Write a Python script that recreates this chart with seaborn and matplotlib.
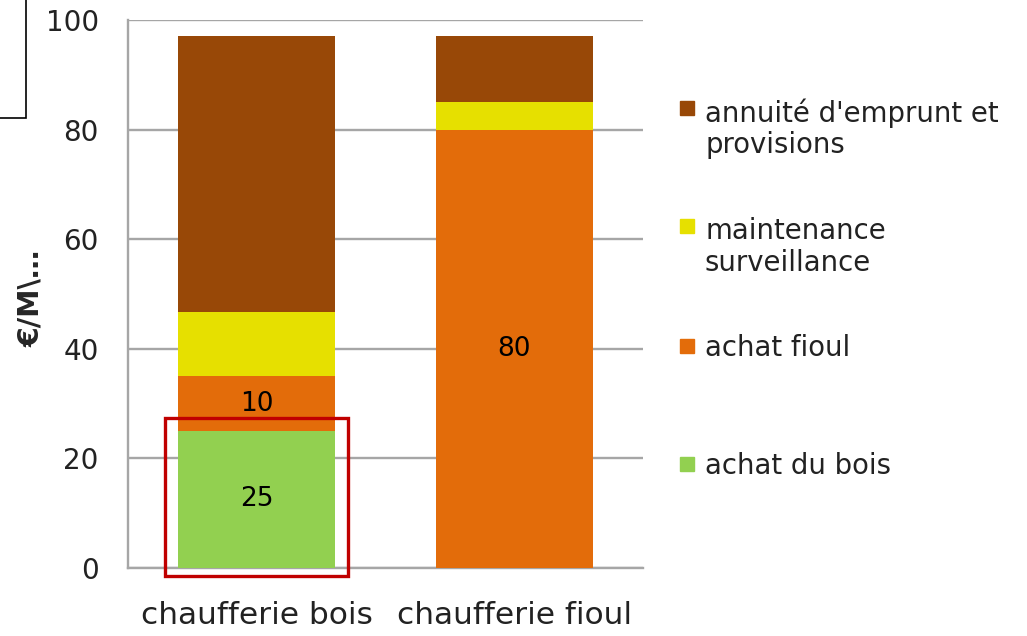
import numpy as np
import matplotlib
matplotlib.use("Agg")
import matplotlib.pyplot as plt
import seaborn as sns
from matplotlib.patches import Rectangle

# data (€/MWh)
categories = ["chaufferie bois", "chaufferie fioul"]
achat_bois = [25, 0]
achat_fioul = [10, 80]
maintenance = [11.8, 5]
annuite = [50.2, 12]

series_names = ["achat du bois", "achat fioul", "maintenance\nsurveillance",
                "annuité d'emprunt et\nprovisions"]
series_colors = ["#92D050", "#E36C0A", "#E6E000", "#984807"]
shown_labels = [["25", ""], ["10", "80"], ["", ""], ["", ""]]
y_ticks = [0, 20, 40, 60, 80, 100]

sns.set_style("white")
plt.rcParams["font.family"] = ["DejaVu Sans"]

W, H = 1027, 636
fig = plt.figure(figsize=(W / 100, H / 100), dpi=100)
ax = fig.add_axes([128 / W, 1 - 568 / H, 515 / W, 548 / H])

grey = "#A6A6A6"
bar_w = 0.61

# stacked bars
bottom = np.zeros(len(categories))
for vals, col in zip([achat_bois, achat_fioul, maintenance, annuite], series_colors):
    sns.barplot(x=categories, y=vals, bottom=bottom, color=col, width=bar_w,
                saturation=1, errorbar=None, ax=ax, zorder=3,
                linewidth=0, edgecolor="none")
    bottom = bottom + np.array(vals)

for cont, labs in zip(ax.containers, shown_labels):
    ax.bar_label(cont, labels=labs, label_type="center", fontsize=19, color="black")

# axes styling
ax.set_xlim(-0.5, 1.5)
ax.set_ylim(0, 100)
ax.set_yticks(y_ticks)
ax.yaxis.grid(True, color=grey, lw=1.7)
ax.set_axisbelow(True)
for s in ["top", "right"]:
    ax.spines[s].set_visible(False)
for s in ["left", "bottom"]:
    ax.spines[s].set_color(grey)
    ax.spines[s].set_linewidth(1.7)

ax.tick_params(axis="y", length=7, width=1.5, color=grey, labelsize=20, pad=14,
               labelcolor="#222222")
ax.tick_params(axis="x", which="major", length=0, labelsize=22.5, pad=24,
               labelcolor="#222222")
ax.set_xticks([-0.5, 0.5, 1.5], minor=True)
ax.tick_params(axis="x", which="minor", length=7, width=1.5, color=grey)
ax.set_xlabel("")

ax.set_ylabel("€/M\\…", fontsize=20.5, fontweight="bold", va="center")
ax.yaxis.set_label_coords(-0.188, 0.493)

# red highlight around the wood purchase bar
pad_x = 0.05
ax.add_patch(Rectangle((-bar_w / 2 - pad_x, -1.5), bar_w + 2 * pad_x, achat_bois[0] + 3.9,
                       fill=False, ec="#C00000", lw=2.4, zorder=5, clip_on=False))

# legend (drawn by hand to match the spacing)
legend_order = [3, 2, 1, 0]
block_centers = [129, 247, 348, 466]
for idx, yc in zip(legend_order, block_centers):
    name = series_names[idx]
    nl = name.count("\n") + 1
    fig.text(705 / W, 1 - yc / H, name, fontsize=19.8, va="center", ha="left",
             color="#222222", linespacing=1.15)
    sq = 14
    y_first = yc - (nl - 1) * 19 - 2
    fig.add_artist(Rectangle((680 / W, 1 - (y_first + sq / 2) / H), sq / W, sq / H,
                             transform=fig.transFigure, color=series_colors[idx]))

# stray frame in the top-left corner
fig.add_artist(Rectangle((-0.01, 1 - 118 / H), 26 / W + 0.01, 118 / H + 0.01,
                         transform=fig.transFigure, fill=False, ec="black", lw=1.2))

fig.savefig("out.png", dpi=100, facecolor="white")
